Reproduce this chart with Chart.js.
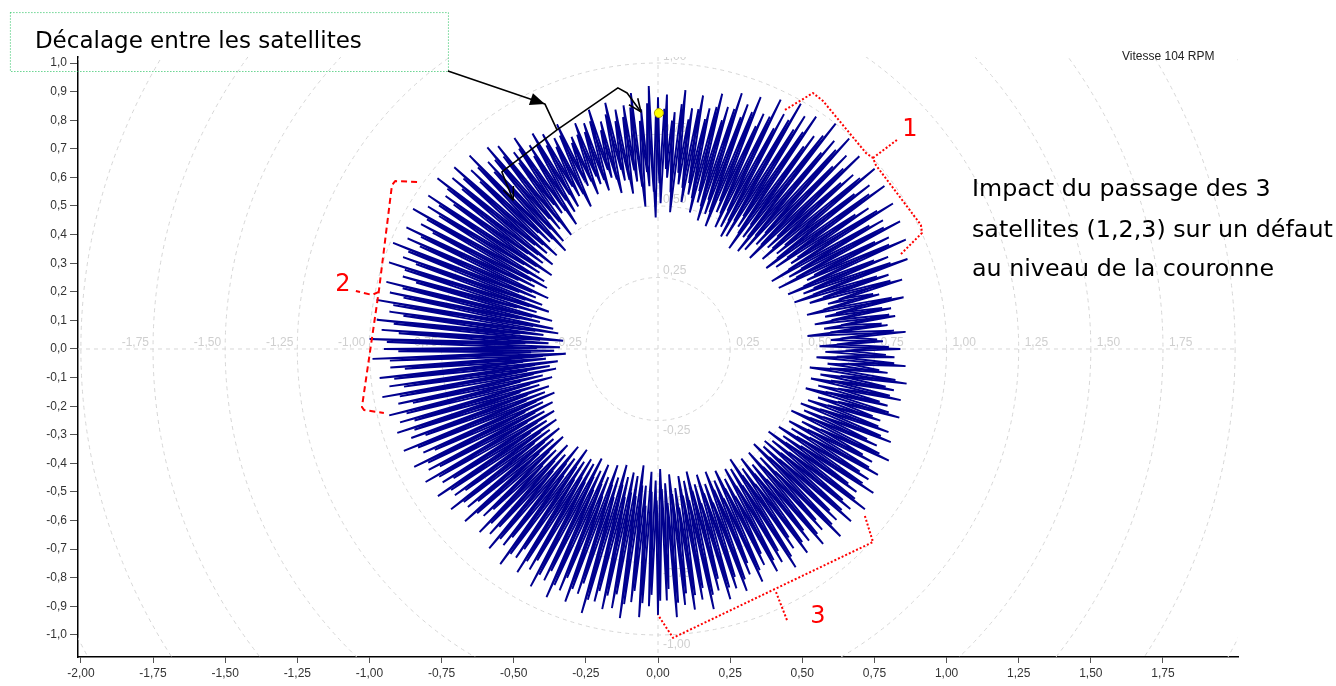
<!DOCTYPE html>
<html>
<head>
<meta charset="utf-8">
<script src="https://cdn.jsdelivr.net/npm/chart.js@4.4.0/dist/chart.umd.min.js"></script>
<style>
  body { margin: 0; background: #fff; }
  #wrap { width: 1336px; height: 686px; }
</style>
</head>
<body>
<div id="wrap"><canvas id="polaire" width="1336" height="686"></canvas></div>
<script>
// 1er tour : rayon du signal, un point par degre (0 = axe +x, sens trigo)
const rayonsQ1 = [
  0.84,0.56,0.78,0.60,0.86,0.52,0.80,0.58,0.83,0.55,
  0.82,0.59,0.87,0.53,0.79,0.61,0.88,0.55,0.84,0.50,
  0.92,0.54,0.86,0.49,0.94,0.57,0.89,0.47,0.95,0.52,
  0.90,0.46,0.96,0.55,0.88,0.50,0.97,0.47,0.93,0.53,
  0.98,0.48,0.91,0.52,0.97,0.45,0.94,0.50,0.99,0.46,
  0.95,0.44,1.00,0.49,0.92,0.43,0.98,0.51,0.96,0.46,
  0.99,0.45,0.93,0.48,0.97,0.47,0.90,0.52,0.95,0.46,
  0.91,0.50,0.94,0.47,0.88,0.53,0.92,0.49,0.86,0.55,
  0.90,0.52,0.85,0.58,0.91,0.48,0.83,0.60,0.89,0.51
];
const rayonsQ2 = [
  0.88,0.46,0.92,0.57,0.84,0.50,0.90,0.59,0.86,0.55,
  0.85,0.60,0.88,0.56,0.82,0.62,0.87,0.58,0.83,0.61,
  0.84,0.58,0.80,0.62,0.86,0.55,0.82,0.60,0.85,0.57,
  0.87,0.56,0.84,0.52,0.89,0.58,0.85,0.50,0.90,0.54,
  0.92,0.50,0.88,0.47,0.94,0.53,0.90,0.48,0.95,0.51,
  0.93,0.47,0.97,0.50,0.91,0.45,0.96,0.49,0.94,0.46,
  0.98,0.44,0.93,0.48,0.97,0.42,0.95,0.46,0.99,0.43,
  0.94,0.40,0.98,0.44,0.92,0.38,0.97,0.42,0.95,0.37,
  0.99,0.35,0.94,0.40,0.98,0.33,0.96,0.38,1.00,0.34
];
const rayonsQ3 = [
  0.95,0.36,0.99,0.32,0.93,0.39,0.97,0.35,0.94,0.38,
  0.97,0.36,0.92,0.41,0.96,0.38,0.93,0.43,0.95,0.40,
  0.91,0.42,0.95,0.39,0.89,0.44,0.94,0.41,0.90,0.45,
  0.93,0.42,0.88,0.46,0.92,0.43,0.87,0.47,0.91,0.44,
  0.86,0.48,0.90,0.45,0.84,0.50,0.89,0.46,0.87,0.49,
  0.91,0.44,0.87,0.48,0.93,0.43,0.88,0.47,0.92,0.45,
  0.89,0.46,0.94,0.43,0.90,0.47,0.95,0.44,0.91,0.48,
  0.94,0.43,0.90,0.47,0.96,0.42,0.91,0.46,0.93,0.44,
  0.92,0.45,0.95,0.41,0.89,0.48,0.94,0.43,0.90,0.46
];
const rayonsQ4 = [
  0.93,0.42,0.88,0.47,0.94,0.44,0.90,0.49,0.92,0.45,
  0.89,0.47,0.93,0.44,0.87,0.49,0.91,0.46,0.88,0.50,
  0.90,0.46,0.85,0.50,0.89,0.47,0.84,0.51,0.88,0.48,
  0.86,0.49,0.90,0.46,0.84,0.51,0.88,0.48,0.85,0.52,
  0.89,0.48,0.85,0.52,0.91,0.47,0.86,0.50,0.90,0.49,
  0.87,0.51,0.91,0.48,0.85,0.53,0.90,0.50,0.86,0.54,
  0.88,0.52,0.84,0.56,0.89,0.51,0.83,0.55,0.87,0.53,
  0.85,0.55,0.81,0.58,0.87,0.53,0.82,0.57,0.86,0.54,
  0.83,0.57,0.87,0.53,0.80,0.59,0.86,0.55,0.82,0.58
];
// 2eme tour, decale d'un demi degre
const rayons2Q1 = [
  0.80,0.62,0.76,0.66,0.82,0.60,0.78,0.64,0.81,0.61,
  0.79,0.63,0.83,0.59,0.77,0.65,0.84,0.60,0.80,0.57,
  0.86,0.58,0.81,0.55,0.88,0.60,0.84,0.54,0.89,0.57,
  0.85,0.53,0.90,0.58,0.83,0.55,0.91,0.52,0.87,0.57,
  0.92,0.53,0.86,0.57,0.90,0.51,0.88,0.55,0.93,0.52,
  0.89,0.50,0.94,0.54,0.87,0.49,0.91,0.55,0.90,0.52,
  0.92,0.51,0.87,0.54,0.90,0.52,0.85,0.56,0.89,0.51,
  0.86,0.55,0.88,0.52,0.83,0.57,0.87,0.54,0.82,0.59,
  0.85,0.57,0.81,0.62,0.86,0.55,0.80,0.63,0.84,0.58
];
const rayons2Q2 = [
  0.83,0.55,0.86,0.62,0.80,0.57,0.85,0.63,0.82,0.60,
  0.81,0.64,0.84,0.61,0.79,0.65,0.83,0.62,0.80,0.64,
  0.80,0.63,0.78,0.66,0.82,0.60,0.79,0.64,0.81,0.62,
  0.83,0.61,0.80,0.58,0.85,0.62,0.81,0.56,0.86,0.59,
  0.87,0.56,0.84,0.53,0.89,0.58,0.85,0.54,0.90,0.56,
  0.88,0.53,0.92,0.56,0.87,0.51,0.91,0.55,0.89,0.52,
  0.92,0.50,0.88,0.54,0.91,0.48,0.90,0.52,0.93,0.49,
  0.89,0.47,0.92,0.51,0.87,0.45,0.91,0.49,0.90,0.44,
  0.93,0.43,0.89,0.48,0.92,0.41,0.90,0.46,0.94,0.42
];
const rayons2Q3 = [
  0.90,0.44,0.93,0.40,0.88,0.47,0.92,0.43,0.89,0.46,
  0.91,0.44,0.87,0.49,0.90,0.46,0.88,0.50,0.89,0.48,
  0.86,0.49,0.90,0.46,0.85,0.51,0.89,0.48,0.86,0.52,
  0.88,0.49,0.84,0.53,0.87,0.50,0.83,0.54,0.86,0.51,
  0.82,0.55,0.85,0.52,0.80,0.57,0.84,0.53,0.83,0.56,
  0.86,0.51,0.83,0.55,0.88,0.50,0.84,0.54,0.87,0.52,
  0.85,0.53,0.89,0.50,0.86,0.54,0.90,0.51,0.86,0.55,
  0.89,0.50,0.86,0.54,0.91,0.49,0.87,0.53,0.88,0.51,
  0.87,0.52,0.90,0.48,0.85,0.55,0.89,0.50,0.86,0.53
];
const rayons2Q4 = [
  0.88,0.49,0.84,0.54,0.89,0.51,0.86,0.56,0.87,0.52,
  0.85,0.54,0.88,0.51,0.83,0.56,0.87,0.53,0.84,0.57,
  0.86,0.53,0.81,0.57,0.85,0.54,0.80,0.58,0.84,0.55,
  0.82,0.56,0.86,0.53,0.80,0.58,0.84,0.55,0.81,0.59,
  0.85,0.55,0.81,0.59,0.86,0.54,0.82,0.57,0.85,0.56,
  0.83,0.58,0.86,0.55,0.81,0.60,0.85,0.57,0.82,0.61,
  0.84,0.59,0.80,0.63,0.85,0.58,0.79,0.62,0.83,0.60,
  0.81,0.62,0.78,0.65,0.83,0.60,0.79,0.64,0.82,0.61,
  0.80,0.64,0.83,0.60,0.77,0.66,0.82,0.62,0.79,0.65
];
const pointJaune = [{ x: 0.003, y: 0.825 }];

const xTicks = [-2.00,-1.75,-1.50,-1.25,-1.00,-0.75,-0.50,-0.25,0.00,0.25,0.50,0.75,1.00,1.25,1.50,1.75];
const yTicks = [-1.0,-0.9,-0.8,-0.7,-0.6,-0.5,-0.4,-0.3,-0.2,-0.1,0.0,0.1,0.2,0.3,0.4,0.5,0.6,0.7,0.8,0.9,1.0];
const cercles = [0.25,0.50,0.75,1.00,1.25,1.50,1.75,2.00,2.25];
const labelsHoriz = [-1.75,-1.50,-1.25,-1.00,-0.75,-0.50,-0.25,0.25,0.50,0.75,1.00,1.25,1.50,1.75];
const labelsVert = [-1.00,-0.75,-0.50,-0.25,0.25,0.50,0.75,1.00];

const titreVitesse = 'Vitesse 104 RPM';
const texteDecalage = 'Décalage entre les satellites';
const texteImpact = ['Impact du passage des 3', 'satellites (1,2,3) sur un défaut', 'au niveau de la couronne'];

// annotations (en unites du graphe)
const cadreDecalage = [[-2.246, 1.178], [-0.728, 0.972]];
const flecheDecalage = [[-0.728, 0.972], [-0.392, 0.857], [-0.350, 0.766]];
const accoladeHaut = [[-0.350, 0.766], [-0.139, 0.913], [-0.107, 0.895], [-0.059, 0.829]];
const accoladeBas = [[-0.350, 0.766], [-0.541, 0.619], [-0.502, 0.521]];
const crochet1 = [[0.440,0.836],[0.537,0.895],[0.572,0.867],[0.721,0.685],[0.745,0.668],[0.755,0.643],[0.911,0.434],[0.915,0.406],[0.839,0.329]];
const repere1 = [[0.745,0.668],[0.828,0.731]];
const crochet2 = [[-0.835,0.584],[-0.911,0.587],[-0.922,0.573],[-0.967,0.206],[-1.026,-0.203],[-1.019,-0.213],[-0.950,-0.224]];
const repere2 = [[-0.967,0.200],[-0.991,0.189],[-1.047,0.203]];
const crochet3 = [[0.717,-0.584],[0.745,-0.675],[0.052,-1.010],[0.000,-0.930]];
const repere3 = [[0.409,-0.850],[0.447,-0.948]];
const numeros = [
  { t: '1', x: 0.873, y: 0.766 },
  { t: '2', x: -1.092, y: 0.224 },
  { t: '3', x: 0.554, y: -0.937 }
];

function polaire(rayons, decalage) {
  const pts = rayons.map(function (r, i) {
    const a = (i + decalage) * Math.PI / 180;
    return { x: r * Math.cos(a), y: r * Math.sin(a) };
  });
  pts.push(pts[0]);
  return pts;
}
const signal1 = polaire(rayonsQ1.concat(rayonsQ2, rayonsQ3, rayonsQ4), 0);
const signal2 = polaire(rayons2Q1.concat(rayons2Q2, rayons2Q3, rayons2Q4), 0.5);

function virgule(v, d) {
  return v.toFixed(d).replace('.', ',');
}

function taillePour(ctx, txt, famille, largeur) {
  ctx.font = '100px ' + famille;
  return 100 * largeur / ctx.measureText(txt).width;
}

const grillePolaire = {
  id: 'grillePolaire',
  beforeDatasetsDraw(chart) {
    const ctx = chart.ctx, a = chart.chartArea;
    const sx = chart.scales.x, sy = chart.scales.y;
    const cx = sx.getPixelForValue(0), cy = sy.getPixelForValue(0);
    ctx.save();
    ctx.beginPath();
    ctx.rect(a.left, a.top, a.right - a.left, a.bottom - a.top);
    ctx.clip();
    ctx.strokeStyle = '#d6d6d6';
    ctx.lineWidth = 1;
    ctx.setLineDash([4, 4]);
    cercles.forEach(function (r) {
      const rx = sx.getPixelForValue(r) - cx;
      const ry = cy - sy.getPixelForValue(r);
      ctx.beginPath();
      ctx.ellipse(cx, cy, rx, ry, 0, 0, Math.PI * 2);
      ctx.stroke();
    });
    ctx.beginPath();
    ctx.moveTo(a.left, cy); ctx.lineTo(a.right, cy);
    ctx.moveTo(cx, a.top); ctx.lineTo(cx, a.bottom);
    ctx.stroke();
    ctx.setLineDash([]);
    ctx.fillStyle = '#cfcfcf';
    ctx.font = '12px "Liberation Sans", Arial, sans-serif';
    ctx.textBaseline = 'alphabetic';
    labelsHoriz.forEach(function (v) {
      const px = sx.getPixelForValue(v);
      ctx.textAlign = v < 0 ? 'right' : 'left';
      ctx.fillText(virgule(v, 2), v < 0 ? px - 4 : px + 6, cy - 3);
    });
    ctx.textAlign = 'left';
    labelsVert.forEach(function (v) {
      const py = sy.getPixelForValue(v);
      ctx.textBaseline = v < 0 ? 'top' : 'alphabetic';
      ctx.fillText(virgule(v, 2), cx + 5, v < 0 ? py + 4 : py - 3);
    });
    ctx.restore();
  }
};

function trace(ctx, chart, pts) {
  const sx = chart.scales.x, sy = chart.scales.y;
  ctx.beginPath();
  pts.forEach(function (p, i) {
    const px = sx.getPixelForValue(p[0]), py = sy.getPixelForValue(p[1]);
    if (i === 0) ctx.moveTo(px, py); else ctx.lineTo(px, py);
  });
  ctx.stroke();
}

function pointe(ctx, chart, a, b, pleine) {
  const sx = chart.scales.x, sy = chart.scales.y;
  const x1 = sx.getPixelForValue(a[0]), y1 = sy.getPixelForValue(a[1]);
  const x2 = sx.getPixelForValue(b[0]), y2 = sy.getPixelForValue(b[1]);
  const ang = Math.atan2(y2 - y1, x2 - x1);
  const L = pleine ? 16 : 14, w = 0.4;
  ctx.beginPath();
  ctx.moveTo(x2 - L * Math.cos(ang - w), y2 - L * Math.sin(ang - w));
  ctx.lineTo(x2, y2);
  ctx.lineTo(x2 - L * Math.cos(ang + w), y2 - L * Math.sin(ang + w));
  if (pleine) { ctx.closePath(); ctx.fill(); } else ctx.stroke();
}

const annotations = {
  id: 'annotations',
  afterDraw(chart) {
    const ctx = chart.ctx;
    const sx = chart.scales.x, sy = chart.scales.y;
    ctx.save();

    // cadre pointille vert
    const c0x = sx.getPixelForValue(cadreDecalage[0][0]), c0y = sy.getPixelForValue(cadreDecalage[0][1]);
    const c1x = sx.getPixelForValue(cadreDecalage[1][0]), c1y = sy.getPixelForValue(cadreDecalage[1][1]);
    ctx.strokeStyle = '#1fbf5a';
    ctx.lineWidth = 1;
    ctx.setLineDash([1, 2]);
    ctx.strokeRect(c0x + 0.5, c0y + 0.5, c1x - c0x, c1y - c0y);
    ctx.setLineDash([]);

    const famille = '"DejaVu Sans", Verdana, sans-serif';
    ctx.fillStyle = '#000';
    ctx.textBaseline = 'middle';
    ctx.textAlign = 'left';
    let fs = taillePour(ctx, texteDecalage, famille, 327);
    ctx.font = fs + 'px ' + famille;
    ctx.fillText(texteDecalage, c0x + 25, (c0y + c1y) / 2);

    // fleches noires
    ctx.strokeStyle = '#000';
    ctx.fillStyle = '#000';
    ctx.lineWidth = 1.6;
    ctx.lineJoin = 'round';
    trace(ctx, chart, flecheDecalage);
    pointe(ctx, chart, flecheDecalage[0], flecheDecalage[1], true);
    trace(ctx, chart, accoladeHaut);
    pointe(ctx, chart, accoladeHaut[2], accoladeHaut[3], false);
    trace(ctx, chart, accoladeBas);
    pointe(ctx, chart, accoladeBas[1], accoladeBas[2], false);

    // crochets rouges
    ctx.strokeStyle = '#ff0000';
    ctx.lineWidth = 2;
    ctx.setLineDash([2, 2]);
    trace(ctx, chart, crochet1);
    trace(ctx, chart, repere1);
    trace(ctx, chart, crochet3);
    trace(ctx, chart, repere3);
    ctx.setLineDash([6, 4]);
    trace(ctx, chart, crochet2);
    trace(ctx, chart, repere2);
    ctx.setLineDash([]);

    ctx.fillStyle = '#ff0000';
    ctx.textAlign = 'center';
    ctx.font = '24px ' + famille;
    numeros.forEach(function (n) {
      ctx.fillText(n.t, sx.getPixelForValue(n.x), sy.getPixelForValue(n.y));
    });

    // texte a droite
    ctx.fillStyle = '#000';
    ctx.textAlign = 'left';
    fs = taillePour(ctx, texteImpact[1], famille, 361);
    ctx.font = fs + 'px ' + famille;
    const tx = sx.getPixelForValue(1.088);
    [0.556, 0.413, 0.276].forEach(function (y, i) {
      ctx.fillText(texteImpact[i], tx, sy.getPixelForValue(y));
    });

    ctx.font = '12px "Liberation Sans", Arial, sans-serif';
    ctx.fillStyle = '#222';
    ctx.fillText(titreVitesse, sx.getPixelForValue(1.608), sy.getPixelForValue(1.021));
    ctx.restore();
  }
};

const chartdata = {
  datasets: [{
    label: 'repere',
    data: pointJaune,
    order: 0,
    pointRadius: 4.5,
    pointBackgroundColor: '#ffff00',
    pointBorderColor: '#b8a800',
    pointBorderWidth: 1
  },
  {
    label: 'tour 1',
    data: signal1,
    order: 1,
    showLine: true,
    borderColor: '#00008f',
    borderWidth: 1.9,
    pointRadius: 0,
    tension: 0
  },
  {
    label: 'tour 2',
    data: signal2,
    order: 2,
    showLine: true,
    borderColor: '#00008f',
    borderWidth: 1.9,
    pointRadius: 0,
    tension: 0
  }]
};

const config = {
  type: 'scatter',
  data: chartdata,
  options: {
    responsive: false,
    animation: false,
    devicePixelRatio: 1,
    layout: { padding: { top: 57, right: 98, left: 0, bottom: 0 } },
    plugins: { legend: { display: false }, tooltip: { enabled: false } },
    scales: {
      x: {
        type: 'linear', min: -2.01, max: 2.01,
        afterBuildTicks: function (s) { s.ticks = xTicks.map(function (v) { return { value: v }; }); },
        afterFit: function (s) { s.height = 29; },
        ticks: {
          autoSkip: false, maxRotation: 0, padding: 3, color: '#333',
          font: { family: '"Liberation Sans", Arial', size: 12 },
          callback: function (v) { return virgule(v, 2); }
        },
        grid: { drawOnChartArea: false, tickLength: 6, color: '#555' },
        border: { color: '#000', width: 1.5 }
      },
      y: {
        type: 'linear', min: -1.077, max: 1.021,
        afterBuildTicks: function (s) { s.ticks = yTicks.map(function (v) { return { value: v }; }); },
        afterFit: function (s) { s.width = 78; },
        ticks: {
          autoSkip: false, padding: 3, color: '#333',
          font: { family: '"Liberation Sans", Arial', size: 12 },
          callback: function (v) { return virgule(v, 1); }
        },
        grid: { drawOnChartArea: false, tickLength: 8, color: '#555' },
        border: { color: '#000', width: 1.5 }
      }
    }
  },
  plugins: [grillePolaire, annotations]
};

var myChart = new Chart(document.getElementById('polaire'), config);
</script>
</body>
</html>
